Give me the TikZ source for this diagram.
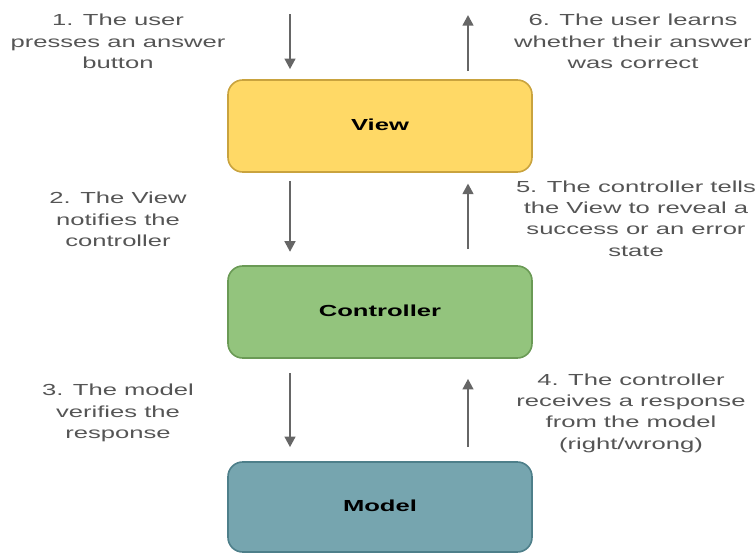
\documentclass[tikz,border=0pt]{standalone}
\usepackage{graphicx}
\usepackage{fontspec}
\setmainfont{Liberation Sans}
\usetikzlibrary{positioning,arrows.meta}

\definecolor{viewfill}{HTML}{FFD966}
\definecolor{viewline}{HTML}{C9A33E}
\definecolor{ctrlfill}{HTML}{93C47D}
\definecolor{ctrlline}{HTML}{6A9A55}
\definecolor{modelfill}{HTML}{76A5AF}
\definecolor{modelline}{HTML}{4E7F8A}
\definecolor{arrowgray}{HTML}{666666}
\definecolor{notegray}{HTML}{555555}

\newcommand{\wide}[1]{\scalebox{1.6}[1]{\begin{tabular}{@{}c@{}}#1\end{tabular}}}

\begin{document}
\begin{tikzpicture}[x=0.75pt,y=-0.75pt,
    block/.style={line width=1.2pt, rounded corners=11pt, minimum width=228pt,
      minimum height=69pt, font=\fontsize{12}{16}\selectfont\bfseries},
    flow/.style={draw=arrowgray, line width=1.8pt, -{Triangle[length=8pt,width=8pt]}},
    note/.style={text=notegray, font=\fontsize{12}{16}\selectfont}]
  \useasboundingbox (0,0) rectangle (756,553);

  \node[block, fill=viewfill, draw=viewline] (view) at (380,126) {\wide{View}};
  \node[block, fill=ctrlfill, draw=ctrlline] (ctrl) at (380,312) {\wide{Controller}};
  \node[block, fill=modelfill, draw=modelline, minimum height=67.5pt] (model) at (380,507) {\wide{Model}};

  \coordinate (press) at (290,14);
  \coordinate (learn) at (468,15);

  \draw[flow, shorten >=7.5pt] (press) -- (press |- view.north);
  \draw[flow, shorten <=6pt] (learn |- view.north) -- (learn);
  \draw[flow, shorten <=6pt, shorten >=10pt] (view.south -| press) -- (ctrl.north -| press);
  \draw[flow, shorten <=12pt, shorten >=8pt] (ctrl.north -| learn) -- (view.south -| learn);
  \draw[flow, shorten <=11pt, shorten >=10.5pt] (ctrl.south -| press) -- (model.north -| press);
  \draw[flow, shorten <=10.5pt, shorten >=15pt] (model.north -| learn) -- (ctrl.south -| learn);

  \node[note] (n1) at (118,43) {\wide{1. The user\\presses an answer\\button}};
  \node[note] (n6) at (633,43) {\wide{6. The user learns\\whether their answer\\was correct}};
  \node[note] (n2) at (118,221) {\wide{2. The View\\notifies the\\controller}};
  \node[note] (n5) at (636,220) {\wide{5. The controller tells\\the View to reveal a\\success or an error\\state}};
  \node[note] (n3) at (118,413) {\wide{3. The model\\verifies the\\response}};
  \node[note] (n4) at (631,413) {\wide{4. The controller\\receives a response\\from the model\\(right/wrong)}};
\end{tikzpicture}
\end{document}
